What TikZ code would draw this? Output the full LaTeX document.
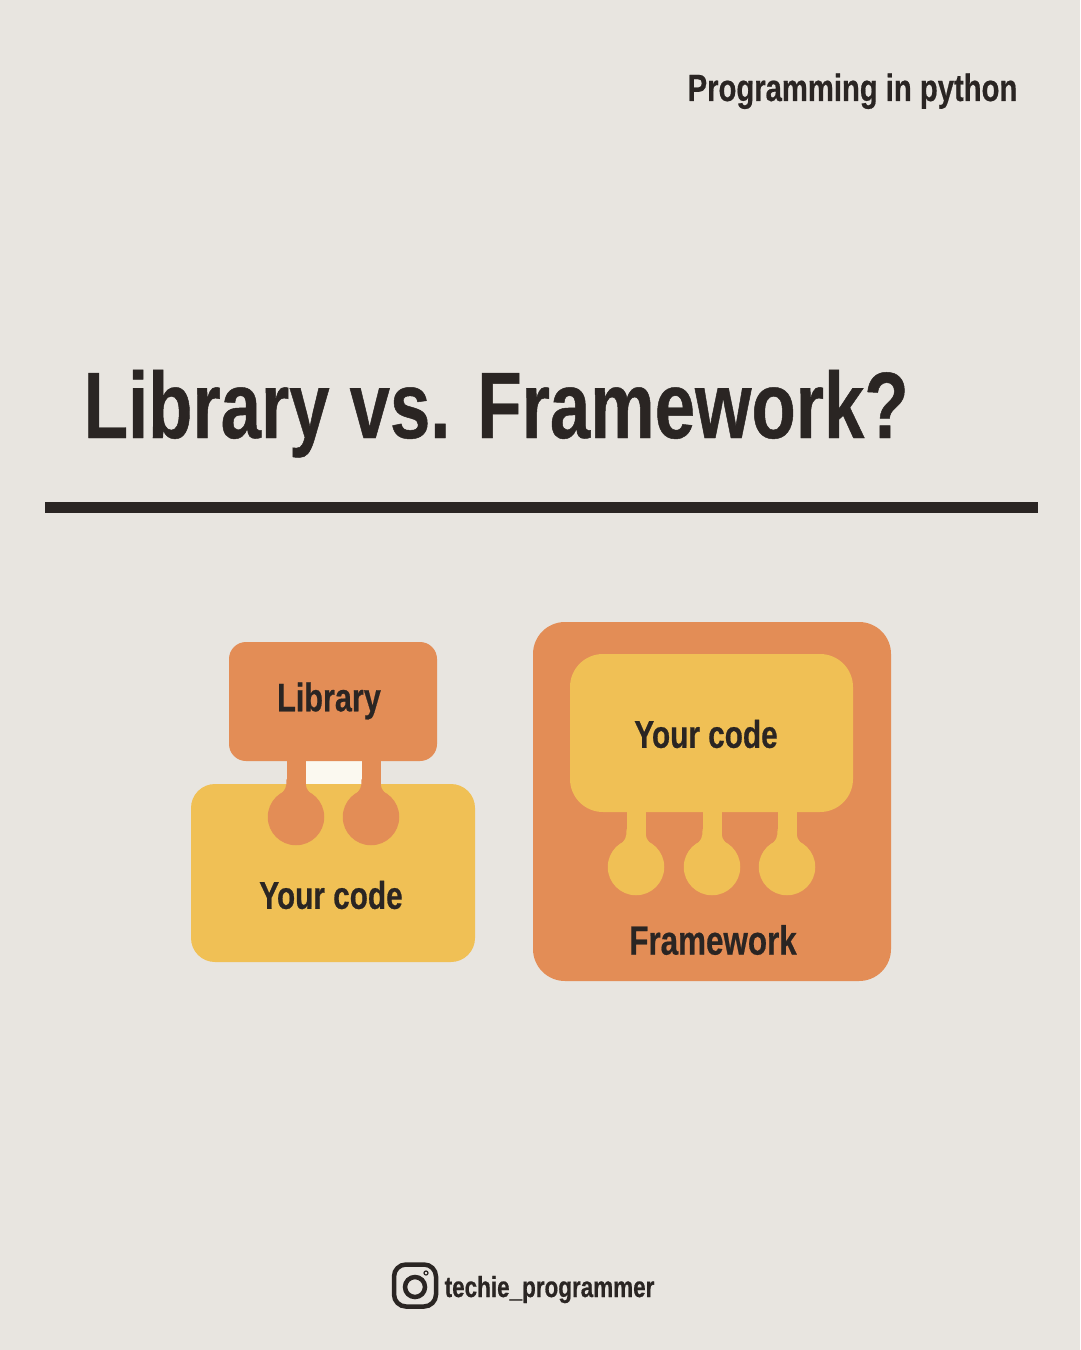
\documentclass[tikz,border=0pt]{standalone}
\usepackage{fontspec}
\setmainfont{Liberation Sans}[FakeStretch=.77,BoldFeatures={FakeBold=.5}]
\usepackage{tikz}
\usetikzlibrary{positioning,calc}
\definecolor{paper}{HTML}{E8E5E0}
\definecolor{ink}{HTML}{2A2523}
\definecolor{orange}{HTML}{E38D56}
\definecolor{honey}{HTML}{F0C055}
\definecolor{gap}{HTML}{FBF9F0}
\tikzset{box/.style={rounded corners=#1,inner sep=0pt,outer sep=0pt},
lab/.style={font=\fontsize{11}{12}\selectfont\bfseries,text=ink,inner sep=0pt},
knob/.style={circle,minimum size=5.65mm,inner sep=0pt,outer sep=0pt},
stem/.style={line width=1.9mm}}

\begin{document}
\begin{tikzpicture}[x=.1mm,y=-.1mm]
\useasboundingbox[fill=paper] (0,0) rectangle (1080,1350);
\node[anchor=base east,font=\fontsize{10.8}{12}\selectfont\bfseries,text=ink,inner sep=0pt] (sub) at (1018,101) {Programming in python};
\node[anchor=base west,font=\fontsize{26.8}{30}\selectfont\bfseries,text=ink,inner sep=0pt] (title) at (83,438) {Library vs. Framework?};
\fill[ink] (45,502) rectangle (1038,513);
% left: library called from your code
\fill[gap] (304,758) rectangle (362,787);
\node[box=2.4mm,fill=honey,minimum width=28.4mm,minimum height=17.8mm] (you1) at (333,873) {};
\node[box=1.7mm,fill=orange,minimum width=20.8mm,minimum height=11.9mm] (lib) at (333,701.5) {};
\node[knob,fill=orange] (k1) at (296,817) {};
\node[knob,fill=orange] (k2) at (371,817) {};
\node[lab,font=\fontsize{11.3}{12}\selectfont\bfseries] (libtext) at (329,701) {Library};
\node[lab] (yourtext) at (331,895) {Your code};
% right: framework calls your code
\node[box=3.2mm,fill=orange,minimum width=35.8mm,minimum height=35.9mm] (frame) at (712,801.5) {};
\node[box=3.3mm,fill=honey,minimum width=28.3mm,minimum height=15.8mm] (you2) at (711.5,733) {};
\node[knob,fill=honey] (k3) at (636,867) {};
\node[knob,fill=honey] (k4) at (712,867) {};
\node[knob,fill=honey] (k5) at (787,867) {};
\foreach \k/\c/\b in {k1/orange/lib,k2/orange/lib,k3/honey/you2,k4/honey/you2,k5/honey/you2}{
\draw[stem,\c] (\k.center) -- (\k |- \b.south);
\fill[\c] ($(\k)+(-9.5,-38)$) .. controls ($(\k)+(-9.5,-29)$) .. ($(\k)+(-19,-18)$) -- ($(\k)+(19,-18)$) .. controls ($(\k)+(9.5,-29)$) .. ($(\k)+(9.5,-38)$) -- cycle;
}
\node[lab] (yourtext2) at (706,734) {Your code};
\node[lab,font=\fontsize{11.6}{12}\selectfont\bfseries] (frametext) at (713,940) {Framework};
% footer
\node[draw=ink,line width=.45mm,rounded corners=1.2mm,minimum size=4.2mm,inner sep=0pt] (insta) at (415,1285.5) {};
\node[draw=ink,line width=.45mm,circle,minimum size=2mm,inner sep=0pt] (lens) at (415,1287) {};
\node[draw=ink,line width=.12mm,circle,minimum size=.4mm,inner sep=0pt] (dot) at (426,1273) {};
\node[anchor=base west,font=\fontsize{8.3}{10}\selectfont\bfseries,text=ink,inner sep=0pt] (tag) at (444,1297) {techie\_programmer};
\end{tikzpicture}
\end{document}
